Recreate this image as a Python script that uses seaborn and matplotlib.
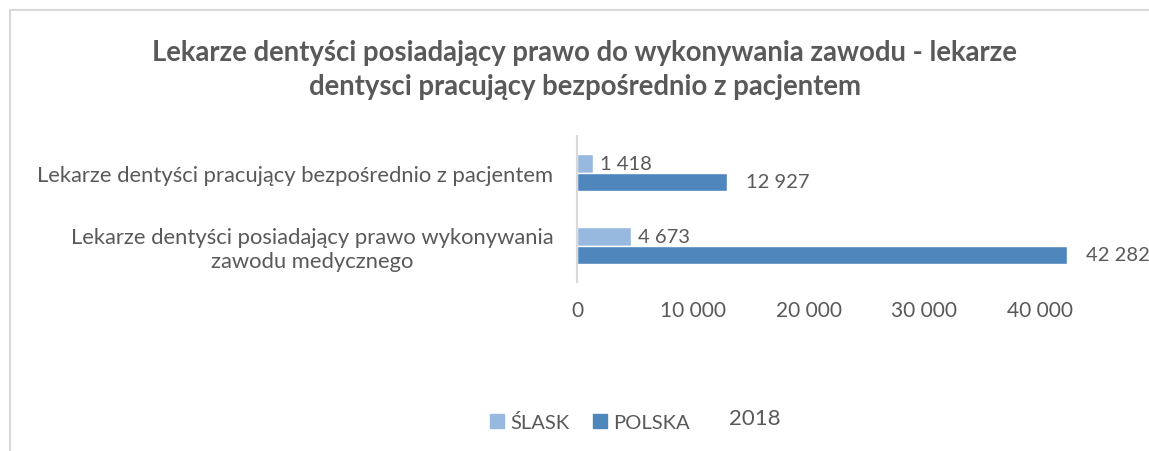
import pandas as pd
import matplotlib.pyplot as plt
import seaborn as sns
from matplotlib.lines import Line2D

categories = ["Lekarze dentyści pracujący bezpośrednio z pacjentem",
              "Lekarze dentyści posiadający prawo wykonywania\nzawodu medycznego"]
regions = ["ŚLASK", "POLSKA"]
slask = [1418, 4673]
polska = [12927, 42282]
ticks = [0, 10000, 20000, 30000, 40000]
year = "2018"

df = pd.DataFrame({
    "kategoria": categories * 2,
    "region": [regions[0]] * 2 + [regions[1]] * 2,
    "liczba": slask + polska,
})

sns.set_style("white")
plt.rcParams["font.family"] = ["Lato", "DejaVu Sans"]
gray = "#595959"
colors = {"ŚLASK": "#97B9E0", "POLSKA": "#4F87BD"}

fig = plt.figure(figsize=(11.49, 4.52), dpi=100)
ax = fig.add_axes([577 / 1149, 1 - 283 / 452, (1098 - 577) / 1149, 146 / 452])

sns.barplot(data=df, y="kategoria", x="liczba", hue="region", hue_order=regions,
            palette=colors, orient="h", width=0.52, ax=ax, legend=False, saturation=1)

def fmt(v):
    return f"{v:,}".replace(",", " ")

for cont, pad in zip(ax.containers, [5, 14]):
    labels = [fmt(int(b.get_width())) for b in cont]
    ax.bar_label(cont, labels=labels, padding=pad, fontsize=14.5, color=gray, clip_on=False)

ax.set_xlim(0, 45000)
ax.set_xticks(ticks)
ax.set_xticklabels([fmt(t) for t in ticks])
ax.set_xlabel("")
ax.set_ylabel("")
ax.tick_params(axis="x", length=0, labelsize=15, labelcolor=gray, pad=13)
ax.tick_params(axis="y", length=0, labelsize=15.8, labelcolor=gray, pad=17)
for lbl in ax.get_yticklabels():
    lbl.set_multialignment("center")
for s in ["top", "right", "bottom"]:
    ax.spines[s].set_visible(False)
ax.spines["left"].set_color("#D9D9D9")
ax.spines["left"].set_linewidth(1.5)

fig.text(585 / 1149, 1 - 70 / 452,
         "Lekarze dentyści posiadający prawo do wykonywania zawodu - lekarze\ndentysci pracujący bezpośrednio z pacjentem",
         ha="center", va="center", fontsize=19.8, fontweight="bold", color=gray, linespacing=1.35)

handles = [plt.Rectangle((0, 0), 1, 1, color=colors[r]) for r in regions]
fig.legend(handles, regions, loc="center", bbox_to_anchor=(590 / 1149, 1 - 423 / 452),
           ncol=2, frameon=False, fontsize=14.5, labelcolor=gray,
           handlelength=0.7, handleheight=0.7, handletextpad=0.3, columnspacing=1.2)
fig.text(755 / 1149, 1 - 419 / 452, year, ha="center", va="center", fontsize=16, color=gray)

border = "#D9D9D9"
fig.add_artist(Line2D([10 / 1149, 10 / 1149], [0, 1 - 11 / 452], color=border, lw=1.5,
                      transform=fig.transFigure))
fig.add_artist(Line2D([10 / 1149, 1], [1 - 11 / 452, 1 - 11 / 452], color=border, lw=1.5,
                      transform=fig.transFigure))

fig.savefig("out.png", dpi=100)
